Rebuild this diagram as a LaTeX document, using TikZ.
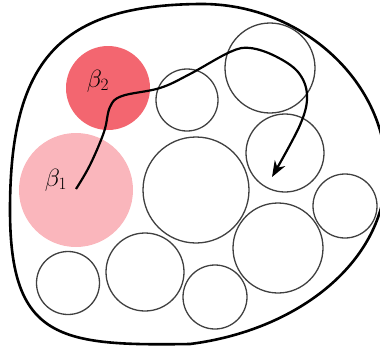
\documentclass[tikz,border=0pt]{standalone}
\usetikzlibrary{arrows.meta}
\definecolor{betatwo}{RGB}{243,102,112}
\definecolor{betaone}{RGB}{250,182,188}
\begin{document}
\begin{tikzpicture}[x=1pt,y=-1pt,
  ball/.style={circle,draw=black!75,line width=1.3pt,inner sep=0pt,minimum size=#1},
  blob/.style={circle,inner sep=0pt,minimum size=#1},
  lbl/.style={font=\fontsize{24}{28}\selectfont}]
\useasboundingbox (0,0) rectangle (380,354);
\begin{scope}
\clip (0,0) rectangle (380,354);
\draw[line width=2.6pt] (10,210) .. controls (10,60) and (60,5) .. (200,4)
  .. controls (300,3) and (385,80) .. (386,170)
  .. controls (387,260) and (300,330) .. (190,344)
  .. controls (60,346) and (10,340) .. cycle;
\end{scope}
\node[blob=114pt,fill=betaone] (b1) at (76,190) {};
\node[blob=84pt,fill=betatwo] (b2) at (108,88) {};
\node[lbl] (l1) at (56,180) {$\beta_1$};
\node[lbl] (l2) at (98,81) {$\beta_2$};
\node[ball=62pt] (c1) at (187,100) {};
\node[ball=90pt] (c2) at (270,68) {};
\node[ball=78pt] (c3) at (285,153) {};
\node[ball=106pt] (c4) at (196,190) {};
\node[ball=64pt] (c5) at (345,206) {};
\node[ball=90pt] (c6) at (278,248) {};
\node[ball=64pt] (c7) at (215,297) {};
\node[ball=78pt] (c8) at (145,272) {};
\node[ball=63pt] (c9) at (68,283) {};
\coordinate (s) at (76,189);
\coordinate (e) at (272,177);
\draw[line width=2.2pt,-{Stealth[length=16pt,width=12pt]}] plot[smooth,tension=0.6] coordinates {
 (s) (90,165) (104,132) (110,107) (122,96) (160,88) (190,74) (230,52) (250,48) (275,56) (298,72) (307,95) (300,125) (e)};
\end{tikzpicture}
\end{document}
